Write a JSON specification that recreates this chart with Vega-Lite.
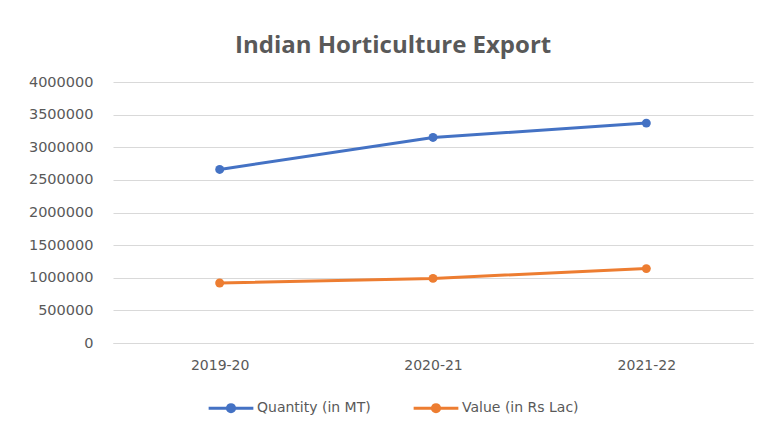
{
  "$schema": "https://vega.github.io/schema/vega-lite/v6.json",
  "width": 640,
  "height": 261,
  "autosize": {"type": "none"},
  "padding": {"left": 113, "top": 82, "right": 12, "bottom": 89},
  "background": "white",
  "title": {
    "text": "Indian Horticulture Export",
    "font": "Open Sans",
    "fontSize": 24,
    "fontWeight": "bold",
    "color": "#595959",
    "anchor": "start",
    "frame": "group",
    "dx": 122,
    "offset": 16
  },
  "data": {
    "values": [
      {"year": "2019-20", "series": "Quantity (in MT)", "value": 2660000},
      {"year": "2020-21", "series": "Quantity (in MT)", "value": 3150000},
      {"year": "2021-22", "series": "Quantity (in MT)", "value": 3370000},
      {"year": "2019-20", "series": "Value (in Rs Lac)", "value": 920000},
      {"year": "2020-21", "series": "Value (in Rs Lac)", "value": 990000},
      {"year": "2021-22", "series": "Value (in Rs Lac)", "value": 1140000}
    ]
  },
  "mark": {"type": "line", "strokeWidth": 3, "point": {"filled": true, "size": 80}},
  "encoding": {
    "x": {
      "field": "year",
      "type": "ordinal",
      "scale": {"type": "point", "padding": 0.5},
      "axis": {
        "title": null,
        "labelAngle": 0,
        "labelFont": "DejaVu Sans",
        "labelFontSize": 14,
        "labelColor": "#595959",
        "ticks": false,
        "domainColor": "#d9d9d9",
        "labelPadding": 15,
        "grid": false
      }
    },
    "y": {
      "field": "value",
      "type": "quantitative",
      "scale": {"domain": [0, 4000000]},
      "axis": {
        "title": null,
        "values": [0, 500000, 1000000, 1500000, 2000000, 2500000, 3000000, 3500000, 4000000],
        "format": "d",
        "labelFont": "DejaVu Sans",
        "labelFontSize": 14.5,
        "labelColor": "#595959",
        "ticks": false,
        "domain": false,
        "gridColor": "#d9d9d9",
        "labelPadding": 20
      }
    },
    "color": {
      "field": "series",
      "type": "nominal",
      "scale": {"domain": ["Quantity (in MT)", "Value (in Rs Lac)"], "range": ["#4472C4", "#ED7D31"]},
      "legend": {
        "title": null,
        "orient": "none",
        "direction": "horizontal",
        "legendX": 94,
        "legendY": 302,
        "labelFont": "DejaVu Sans",
        "labelFontSize": 14,
        "labelColor": "#595959",
        "symbolType": "M-1,0L1,0M-0.16,0A0.16,0.16 0 1,1 0.16,0A0.16,0.16 0 1,1 -0.16,0Z",
        "symbolSize": 2000,
        "symbolStrokeWidth": 3,
        "symbolOffset": 0,
        "labelOffset": 2,
        "columnPadding": 36
      }
    }
  },
  "config": {"view": {"stroke": null}}
}
